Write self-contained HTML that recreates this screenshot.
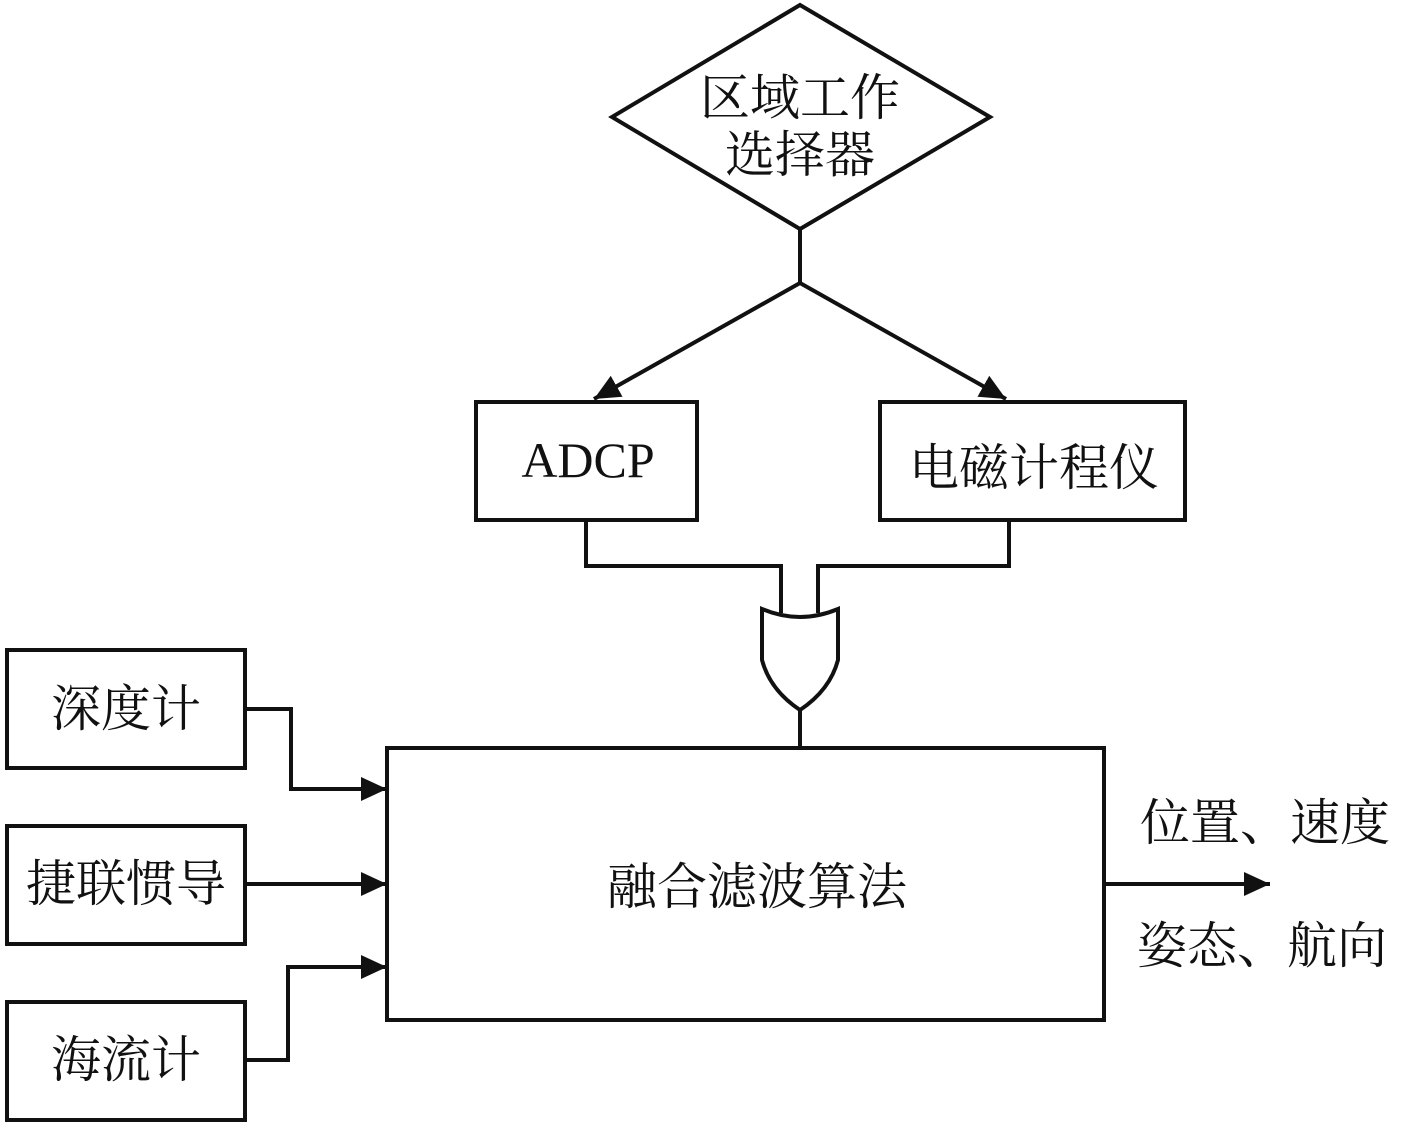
<!DOCTYPE html>
<html><head><meta charset="utf-8"><style>
html,body{margin:0;padding:0;background:#fff;}
svg text{font-family:"Liberation Serif","Noto Serif CJK SC",serif;fill:#111;}
</style></head><body>
<svg width="1417" height="1125" viewBox="0 0 1417 1125" xmlns="http://www.w3.org/2000/svg">
<defs><marker id="a" markerWidth="10" markerHeight="10" refX="9" refY="5" orient="auto" markerUnits="userSpaceOnUse" viewBox="0 0 10 10"><path d="M0,0 L10,5 L0,10 z" fill="#111"/></marker>
<marker id="b" markerWidth="26" markerHeight="24" refX="26" refY="12" orient="auto" markerUnits="userSpaceOnUse"><path d="M0,0 L26,12 L0,24 z" fill="#111"/></marker></defs>
<g stroke="#111" stroke-width="4" fill="none">
<polygon points="800,5 990,117 800,229 612,117" fill="#fff"/>
<line x1="800" y1="229" x2="800" y2="283"/>
<line x1="800" y1="283" x2="594" y2="399" marker-end="url(#b)"/>
<line x1="800" y1="283" x2="1006" y2="399" marker-end="url(#b)"/>
<rect x="476" y="402" width="221" height="118"/>
<rect x="880" y="402" width="305" height="118"/>
<polyline points="586,520 586,566 781,566 781,613"/>
<polyline points="1009,520 1009,566 818,566 818,613"/>
<path d="M762,609 Q800,625 838,609 L838,660 Q830,690 800,710 Q770,690 762,660 Z"/>
<line x1="800" y1="710" x2="800" y2="748"/>
<rect x="387" y="748" width="717" height="272"/>
<rect x="7" y="650" width="238" height="118"/>
<rect x="7" y="826" width="238" height="118"/>
<rect x="7" y="1002" width="238" height="118"/>
<polyline points="245,709 291,709 291,789 387,789" marker-end="url(#b)"/>
<line x1="245" y1="884" x2="387" y2="884" marker-end="url(#b)"/>
<polyline points="245,1060 288,1060 288,967 387,967" marker-end="url(#b)"/>
<line x1="1104" y1="884" x2="1270" y2="884" marker-end="url(#b)"/>
</g>
<g font-size="50" text-anchor="middle">
<text x="800" y="115">区域工作</text>
<text x="800" y="172">选择器</text>
<text x="588" y="477">ADCP</text>
<text x="1034" y="485">电磁计程仪</text>
<text x="126" y="726">深度计</text>
<text x="126" y="901">捷联惯导</text>
<text x="126" y="1077">海流计</text>
<text x="757" y="904">融合滤波算法</text>
<text x="1265" y="840">位置、速度</text>
<text x="1262" y="963">姿态、航向</text>
</g>
</svg>
</body></html>
